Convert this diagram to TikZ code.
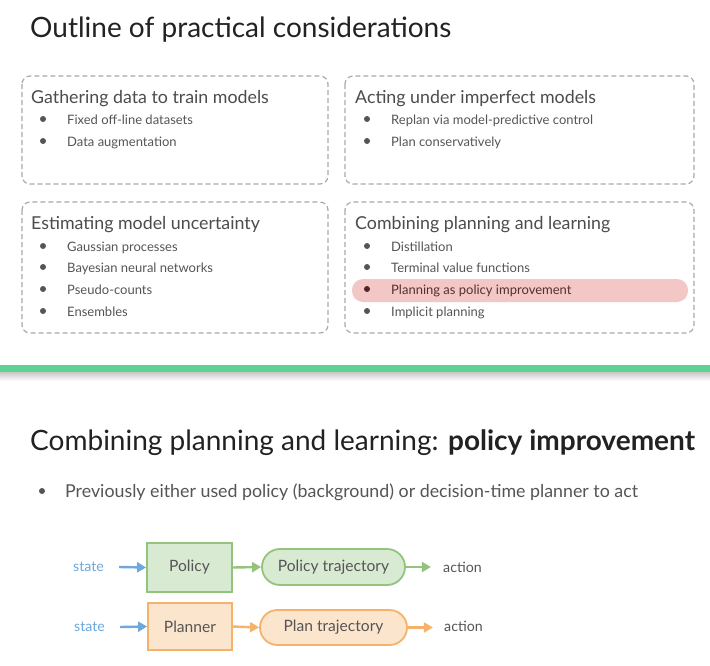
\documentclass[tikz,border=0pt]{standalone}
\usepackage{fontspec}
\setmainfont{Lato}
\usetikzlibrary{arrows.meta,shapes.misc}
\definecolor{txt}{HTML}{222222}
\definecolor{bodytxt}{HTML}{555555}
\definecolor{dashgray}{HTML}{AAAAAA}
\definecolor{pinkhl}{HTML}{F4C7C7}
\definecolor{barg}{HTML}{5FD394}
\definecolor{gfill}{HTML}{D9EAD3}
\definecolor{gline}{HTML}{93C47D}
\definecolor{ofill}{HTML}{FCE5CD}
\definecolor{oline}{HTML}{F6B26B}
\definecolor{blu}{HTML}{6FA8DC}
\tikzset{
  bigtitle/.style={anchor=base west,inner sep=0pt,text=txt,font=\fontsize{28}{32}\selectfont},
  heading/.style={anchor=base west,inner sep=0pt,text=bodytxt!90!black,font=\fontsize{17.8}{20}\selectfont},
  item/.style={anchor=base west,inner sep=0pt,text=bodytxt,font=\fontsize{13}{15}\selectfont},
  dot/.style={circle,fill=bodytxt,inner sep=0pt,minimum size=6pt},
  dashbox/.style={draw=dashgray,dashed,dash pattern=on 5pt off 3pt,line width=1.2pt,rounded corners=8pt},
  lbl/.style={inner sep=0pt,font=\fontsize{14.2}{16}\selectfont},
  inlbl/.style={inner sep=0pt,font=\fontsize{15.6}{18}\selectfont,text=bodytxt},
  arr/.style={line width=2.4pt,-{Triangle[length=9pt,width=10pt]}},
}
\begin{document}
\begin{tikzpicture}[x=1pt,y=-1pt]
\useasboundingbox (0,0) rectangle (710,665);
\fill[white] (0,0) rectangle (710,665);
% title
\node[bigtitle] (t1) at (30,37) {Outline of practical considerations};
% boxes
\draw[dashbox] (22,76) rectangle (328,184);
\draw[dashbox] (345,76) rectangle (694,184);
\draw[dashbox] (22,202) rectangle (328,333);
\draw[dashbox] (345,202) rectangle (694,333);
% highlight
\fill[pinkhl,rounded corners=11pt] (352,279) rectangle (688,302);
% box 1
\node[heading] (h1) at (31,103) {Gathering data to train models};
\node[dot] (d11) at (43,119) {}; \node[item] (i11) at (67,124) {Fixed off-line datasets};
\node[dot] (d12) at (43,141) {}; \node[item] (i12) at (67,146) {Data augmentation};
% box 2
\node[heading] (h2) at (355,103) {Acting under imperfect models};
\node[dot] (d21) at (367,119) {}; \node[item] (i21) at (391,124) {Replan via model-predictive control};
\node[dot] (d22) at (367,141) {}; \node[item] (i22) at (391,146) {Plan conservatively};
% box 3
\node[heading] (h3) at (31,229) {Estimating model uncertainty};
\node[dot] (d31) at (43,246) {}; \node[item] (i31) at (67,251) {Gaussian processes};
\node[dot] (d32) at (43,267) {}; \node[item] (i32) at (67,272) {Bayesian neural networks};
\node[dot] (d33) at (43,289) {}; \node[item] (i33) at (67,294) {Pseudo-counts};
\node[dot] (d34) at (43,311) {}; \node[item] (i34) at (67,316) {Ensembles};
% box 4
\node[heading] (h4) at (355,229) {Combining planning and learning};
\node[dot] (d41) at (367,246) {}; \node[item] (i41) at (391,251) {Distillation};
\node[dot] (d42) at (367,267) {}; \node[item] (i42) at (391,272) {Terminal value functions};
\node[dot,fill=bodytxt!70!red!60!black] (d43) at (367,289) {}; \node[item,text=bodytxt!80!red!70!black] (i43) at (391,294) {Planning as policy improvement};
\node[dot] (d44) at (367,311) {}; \node[item] (i44) at (391,316) {Implicit planning};
% divider
\fill[barg] (0,365) rectangle (710,372);
\shade[top color=black!22,bottom color=white] (0,372) rectangle (710,381);
% second title
\node[bigtitle] (t2) at (30,450) {Combining planning and learning: \textbf{policy improvement}};
\node[dot] (d5) at (42,491) {};
\node[item,font=\fontsize{17.8}{21}\selectfont] (i5) at (65,497) {Previously either used policy (background) or decision-time planner to act};
% diagram
\node[draw=gline,fill=gfill,line width=1.8pt,minimum width=85pt,minimum height=49pt,inlbl] (pol) at (189.5,567.5) {Policy};
\node[draw=gline,fill=gfill,line width=1.8pt,rounded rectangle,minimum width=143pt,minimum height=36pt,inlbl] (ptr) at (333.5,567) {Policy trajectory};
\node[lbl,text=blu,anchor=west] (s1) at (73,567) {state};
\node[lbl,text=bodytxt,anchor=west] (a1) at (443,567) {action};
\draw[arr,blu] (s1.east)++(15,0) coordinate (s1a) -- (pol.west);
\draw[arr,gline] (pol.east) -- (ptr.west);
\draw[arr,gline] (ptr.east) -- ++(25,0) coordinate (a1a);

\node[draw=oline,fill=ofill,line width=1.8pt,minimum width=84pt,minimum height=47pt,inlbl] (pln) at (190,626.5) {Planner};
\node[draw=oline,fill=ofill,line width=1.8pt,rounded rectangle,minimum width=147pt,minimum height=35pt,inlbl] (plt) at (333.5,627.5) {Plan trajectory};
\node[lbl,text=blu,anchor=west] (s2) at (74,627) {state};
\node[lbl,text=bodytxt,anchor=west] (a2) at (444,626) {action};
\draw[arr,blu] (s2.east)++(15,0) coordinate (s2a) -- (pln.west);
\draw[arr,oline] (pln.east) -- (plt.west);
\draw[arr,oline] (plt.east) -- ++(25,0) coordinate (a2a);
\end{tikzpicture}
\end{document}
